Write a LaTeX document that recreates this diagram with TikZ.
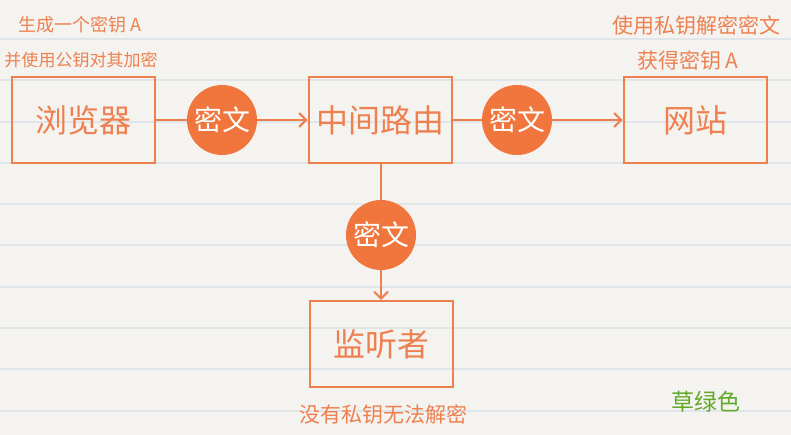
\documentclass[tikz,border=0pt]{standalone}
\usepackage{fontspec}
\newfontfamily\cjk{Noto Sans CJK SC}
\usetikzlibrary{arrows.meta,positioning}
\definecolor{pen}{RGB}{238,128,80}
\definecolor{dot}{RGB}{240,118,62}
\definecolor{paper}{RGB}{245,243,240}
\definecolor{ruling}{RGB}{224,229,234}
\definecolor{grass}{RGB}{96,170,40}
\tikzset{
  box/.style={draw=pen, line width=2pt, minimum width=143pt, minimum height=86pt,
    inner sep=0pt, text=pen, font=\cjk\fontsize{32}{32}\selectfont},
  tag/.style={circle, fill=dot, minimum size=70pt, inner sep=0pt, text=white,
    font=\cjk\fontsize{28}{28}\selectfont},
  note/.style={inner sep=0pt, text=pen, font=\cjk\fontsize{#1}{#1}\selectfont},
  link/.style={draw=pen, line width=2pt},
}

\begin{document}
\begin{tikzpicture}[x=1pt, y=-1pt, >={Straight Barb[length=7pt,width=14pt]}]
  % paper
  \useasboundingbox (0,0) rectangle (791,435);
  \fill[paper] (0,0) rectangle (791,435);
  \foreach \k in {0,...,9}
    \draw[ruling, line width=2pt] (0,39+41.3*\k) -- (791,39+41.3*\k);

  % boxes and ciphertext tags
  \node[box] (browser) at (83,120) {浏览器};
  \node[box] (router)  at (380,120) {中间路由};
  \node[box] (site)    at (695,120) {网站};
  \node[box] (spy)     at (381,344) {监听者};
  \node[tag] (c1) at (222,120) {密文};
  \node[tag] (c2) at (517,120) {密文};
  \node[tag] (c3) at (381,235) {密文};

  \path[link] (browser) edge (c1);
  \path[link,->] (c1) edge (router);
  \path[link] (router) edge (c2);
  \path[link,->] (c2) edge (site);
  \path[link] (router.south -| c3) edge (c3);
  \path[link,->] (c3) edge (spy);

  % notes
  \node[note=18] (gen)  at (80,25) {生成一个密钥 A};
  \node[note=17] (enc)  at (81,60) {并使用公钥对其加密};
  \node[note=21] (dec)  at (696,25) {使用私钥解密密文};
  \node[note=21] (got)  at (688,60) {获得密钥 A};
  \node[note=21] (fail) at (383,414) {没有私钥无法解密};
  \node[inner sep=0pt, text=grass, font=\cjk\fontsize{23}{23}\selectfont] (green) at (706,402) {草绿色};
\end{tikzpicture}
\end{document}
